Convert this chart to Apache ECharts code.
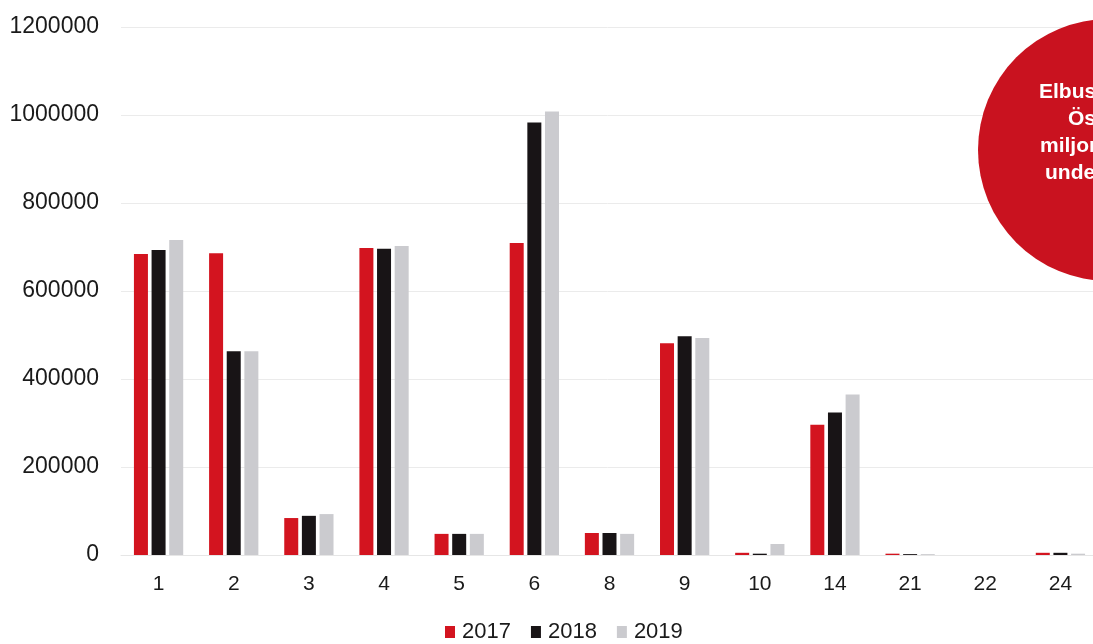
<!DOCTYPE html>
<html>
<head>
<meta charset="utf-8">
<script src="https://cdn.jsdelivr.net/npm/echarts@6/dist/echarts.min.js"></script>
<style>
  html, body { margin: 0; padding: 0; background: #ffffff; }
  #chart { width: 1093px; height: 644px; }
</style>
</head>
<body>
<div id="chart"></div>
<script>
// Linjenummer
const categories = ['1', '2', '3', '4', '5', '6', '8', '9', '10', '14', '21', '22', '24'];

// Värden per år
const values2017 = [684000, 686000, 84000, 698000, 48000, 709000, 50000, 481000, 5000, 296000, 3000, 0, 5000];
const values2018 = [693000, 463000, 89000, 696000, 48000, 983000, 50000, 497000, 3000, 324000, 2000, 0, 5000];
const values2019 = [716000, 463000, 93000, 702000, 48000, 1008000, 48000, 493000, 25000, 365000, 2000, 0, 3000];

const yearNames = ['2017', '2018', '2019'];
const yTicks = [0, 200000, 400000, 600000, 800000, 1000000, 1200000];

// Infocirkel till höger
const badgeLines = ['Elbussarna i', 'Östersund', 'miljoner km', 'under 2019'];
const badgeLineX = [1039, 1068, 1040, 1045];

const colors = ['#d3141f', '#181416', '#cbcbcf'];
const font = '"Liberation Sans", Arial, sans-serif';

const chart = echarts.init(document.getElementById('chart'), null, { renderer: 'canvas' });

const seriesData = [values2017, values2018, values2019];

chart.setOption({
  animation: false,
  backgroundColor: '#ffffff',
  color: colors,
  textStyle: { fontFamily: font },
  grid: { left: 121, top: 27, bottom: 89, width: 977, containLabel: false, outerBoundsMode: 'none' },
  legend: {
    bottom: -4,
    left: 440,
    itemWidth: 10,
    itemHeight: 12,
    itemGap: 20,
    icon: 'rect',
    textStyle: { fontSize: 22, color: '#1a1a1a', fontFamily: font, padding: [0, 0, 0, 2] },
    data: yearNames
  },
  xAxis: {
    type: 'category',
    data: categories,
    axisLine: { show: true, lineStyle: { color: '#e6e6e6', width: 1 } },
    axisTick: { show: false },
    axisLabel: { fontSize: 21, color: '#1a1a1a', margin: 19, fontFamily: font }
  },
  yAxis: {
    type: 'value',
    min: yTicks[0],
    max: yTicks[yTicks.length - 1],
    interval: yTicks[1] - yTicks[0],
    axisLine: { show: false },
    axisTick: { show: false },
    splitLine: { lineStyle: { color: '#ebebeb', width: 1 } },
    axisLabel: { fontSize: 23, color: '#1a1a1a', margin: 22, fontFamily: font, formatter: v => String(v) }
  },
  series: seriesData.map((d, i) => ({
    name: yearNames[i],
    type: 'bar',
    data: d,
    barWidth: 14,
    barGap: '26%',
    itemStyle: { color: colors[i] }
  })),
  graphic: [
    {
      type: 'circle',
      shape: { cx: 1109, cy: 150, r: 131 },
      style: { fill: '#c9121f' },
      z: 100
    },
    ...badgeLines.map((t, i) => ({
      type: 'text',
      x: badgeLineX[i],
      y: 92 + i * 27,
      z: 101,
      style: {
        text: t,
        fill: '#ffffff',
        font: 'bold 21px ' + font,
        textAlign: 'left',
        textVerticalAlign: 'middle'
      }
    }))
  ]
});
</script>
</body>
</html>
